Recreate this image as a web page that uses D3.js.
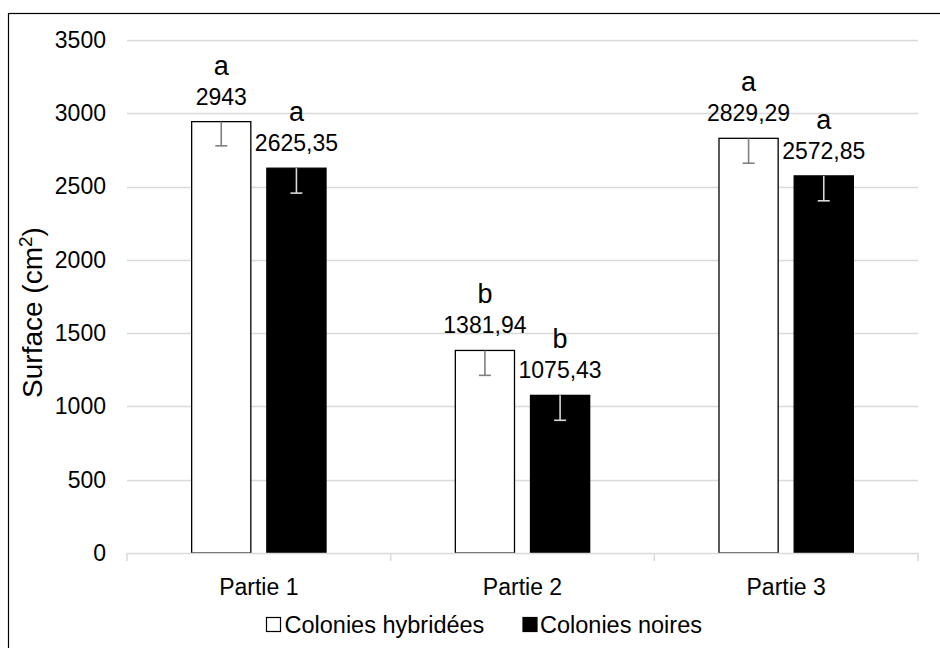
<!DOCTYPE html>
<html><head><meta charset="utf-8">
<script src="https://cdn.jsdelivr.net/npm/d3@7"></script>
<style>
html,body{margin:0;padding:0;background:#fff;}
svg{display:block;font-family:"Liberation Sans",Arial,sans-serif;}
</style></head>
<body>
<svg id="chart" width="940" height="648"></svg>
<script>
const categories = ["Partie 1", "Partie 2", "Partie 3"];
const seriesNames = ["Colonies hybridées", "Colonies noires"];
const hybrideValues = [2943, 1381.94, 2829.29];
const noireValues = [2625.35, 1075.43, 2572.85];
const hybrideErrors = [165, 170, 170];
const noireErrors = [170, 170, 170];
const hybrideLetters = ["a", "b", "a"];
const noireLetters = ["a", "b", "a"];
const yTicks = [0, 500, 1000, 1500, 2000, 2500, 3000, 3500];

(function () {
const svg = d3.select("#chart");
const W = 940, H = 648;
const pLeft = 127, pRight = 918, pTop = 40, pBottom = 553;

// frame
svg.append("rect").attr("x", 8.5).attr("y", 13.5).attr("width", W).attr("height", H)
  .attr("fill", "#fff").attr("stroke", "#000").attr("stroke-width", 1.2);

const y = d3.scaleLinear().domain([0, 3500]).range([pBottom, pTop]);
const x0 = d3.scaleBand().domain(categories).range([pLeft, pRight]).padding(0);
const x1 = d3.scaleBand().domain(seriesNames).range([0, x0.bandwidth()])
  .paddingInner(0.213).paddingOuter(0.86);

// gridlines
svg.append("g").selectAll("line").data(yTicks.filter(d => d > 0)).join("line")
  .attr("x1", pLeft).attr("x2", pRight)
  .attr("y1", d => Math.round(y(d)) + 0.5).attr("y2", d => Math.round(y(d)) + 0.5)
  .attr("stroke", "#d9d9d9").attr("stroke-width", 1.3);

// y tick labels
const yAxis = d3.axisLeft(y).tickValues(yTicks).tickSize(0).tickPadding(0).tickFormat(d3.format("d"));
const ga = svg.append("g").attr("transform", `translate(106,0)`).call(yAxis);
ga.select(".domain").remove();
ga.selectAll("text").attr("font-size", 23).attr("fill", "#000")
  .attr("font-family", "'Liberation Sans', Arial, sans-serif");

// data rows
const rows = [];
categories.forEach((c, i) => {
  rows.push({cat: c, s: seriesNames[0], v: hybrideValues[i], e: hybrideErrors[i], l: hybrideLetters[i]});
  rows.push({cat: c, s: seriesNames[1], v: noireValues[i], e: noireErrors[i], l: noireLetters[i]});
});
const fill = {[seriesNames[0]]: "#fff", [seriesNames[1]]: "#000"};
const errColor = {[seriesNames[0]]: "#7f7f7f", [seriesNames[1]]: "#d9d9d9"};
const fmt = v => Number.isInteger(v) ? String(v) : v.toFixed(2).replace(".", ",");

// bars
svg.append("g").selectAll("rect").data(rows).join("rect")
  .attr("x", d => x0(d.cat) + x1(d.s))
  .attr("y", d => y(d.v))
  .attr("width", x1.bandwidth())
  .attr("height", d => y(0) - y(d.v))
  .attr("fill", d => fill[d.s])
  .attr("stroke", "#000").attr("stroke-width", 1.3);

// x axis line and ticks
const axisG = svg.append("g");
axisG.append("line").attr("x1", pLeft).attr("x2", pRight).attr("y1", pBottom + 0.5).attr("y2", pBottom + 0.5)
  .attr("stroke", "#d9d9d9").attr("stroke-width", 1.5);
const bounds = categories.map(c => x0(c)).concat([x0(categories[categories.length - 1]) + x0.bandwidth()]);
axisG.selectAll("line.tick").data(bounds).join("line").attr("class", "tick")
  .attr("x1", d => d).attr("x2", d => d).attr("y1", pBottom).attr("y2", pBottom + 8)
  .attr("stroke", "#d9d9d9").attr("stroke-width", 1.5);

// error bars (minus)
const eg = svg.append("g");
rows.forEach(d => {
  const cx = x0(d.cat) + x1(d.s) + x1.bandwidth() / 2;
  const col = errColor[d.s];
  eg.append("line").attr("x1", cx).attr("x2", cx).attr("y1", y(d.v)).attr("y2", y(d.v - d.e))
    .attr("stroke", col).attr("stroke-width", 1.6);
  eg.append("line").attr("x1", cx - 6).attr("x2", cx + 6).attr("y1", y(d.v - d.e)).attr("y2", y(d.v - d.e))
    .attr("stroke", col).attr("stroke-width", 1.6);
});

// labels
const lg = svg.append("g").attr("text-anchor", "middle").attr("fill", "#000");
lg.selectAll("text.val").data(rows).join("text").attr("class", "val")
  .attr("x", d => x0(d.cat) + x1(d.s) + x1.bandwidth() / 2)
  .attr("y", d => y(d.v) - 17)
  .attr("font-size", 23).text(d => fmt(d.v));
lg.selectAll("text.let").data(rows).join("text").attr("class", "let")
  .attr("x", d => x0(d.cat) + x1(d.s) + x1.bandwidth() / 2)
  .attr("y", d => y(d.v) - 47)
  .attr("font-size", 27).text(d => d.l);

// category labels
svg.append("g").selectAll("text").data(categories).join("text")
  .attr("x", d => x0(d) + x0.bandwidth() / 2).attr("y", 595)
  .attr("text-anchor", "middle").attr("font-size", 23).text(d => d);

// y title
const yt = svg.append("text").attr("transform", `translate(42,${(pTop + pBottom) / 2 + 16}) rotate(-90)`)
  .attr("text-anchor", "middle").attr("font-size", 28);
yt.append("tspan").text("Surface (cm");
yt.append("tspan").attr("font-size", 19).attr("dy", -10).text("2");
yt.append("tspan").attr("dy", 10).text(")");

// legend
const leg = svg.append("g");
const legX = [266, 522.5], legTX = [284.5, 540];
seriesNames.forEach((s, i) => {
  leg.append("rect").attr("x", legX[i] + 0.5).attr("y", 617.5).attr("width", 14).attr("height", 14)
    .attr("fill", fill[s]).attr("stroke", "#000").attr("stroke-width", 1.2);
  leg.append("text").attr("x", legTX[i]).attr("y", 633).attr("font-size", 23.5).text(s);
});
})();
</script>
</body></html>
